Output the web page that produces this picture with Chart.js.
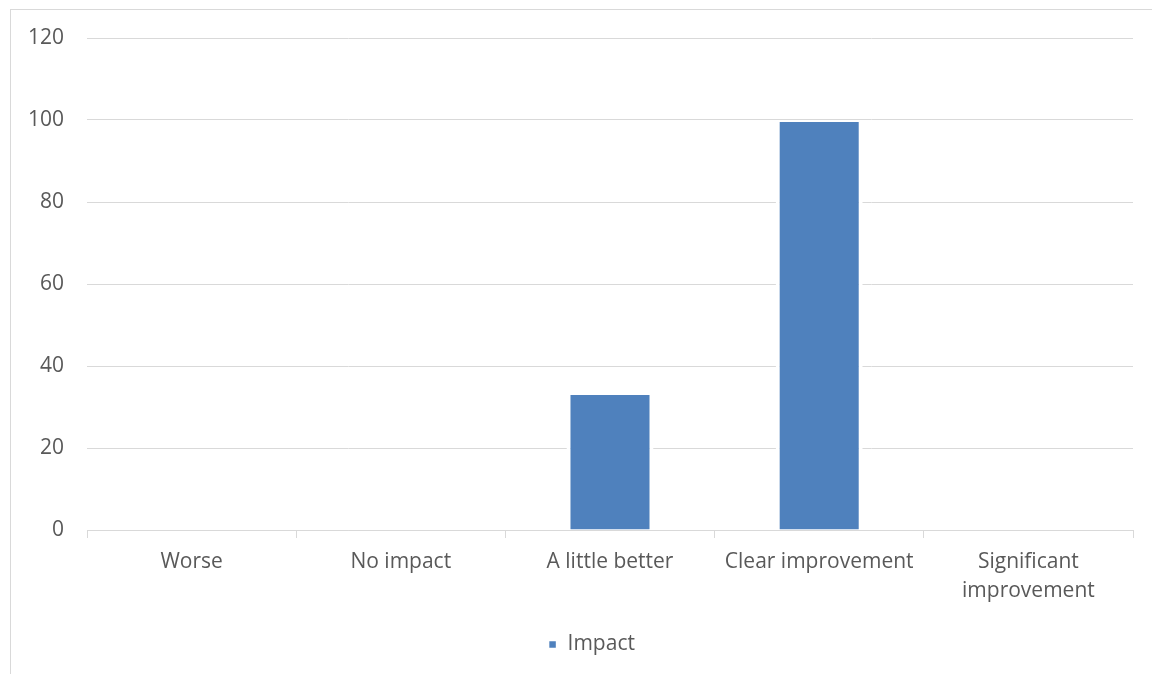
<!DOCTYPE html>
<html>
<head>
<meta charset="utf-8">
<title>Impact</title>
<script src="https://cdn.jsdelivr.net/npm/chart.js@4.4.1/dist/chart.umd.min.js"></script>
<style>
  html, body { margin: 0; padding: 0; background: #fff; overflow: hidden; }
  #frame {
    position: absolute; left: 10px; top: 9px; width: 1200px; height: 720px;
    border: 1px solid #d9d9d9; box-sizing: border-box;
  }
  #wrap { position: absolute; left: 0; top: 0; width: 1152px; height: 674px; }
</style>
</head>
<body>
<div id="frame"></div>
<div id="wrap"><canvas id="chart" width="1152" height="674"></canvas></div>
<script>
const categories = ["Worse", "No impact", "A little better", "Clear improvement", ["Significant", "improvement"]];
const impactValues = [0, 0, 33.4, 100, 0];
const yTicks = [0, 20, 40, 60, 80, 100, 120];

const TEXT = "#595959";
const GRID = "#d9d9d9";
const FONT = "'Open Sans', sans-serif";

// centre the legend on the outer chart box rather than on the plot area
const legendShift = {
  id: "legendShift",
  afterLayout(chart) {
    if (chart.legend) chart.legend.left += 50;
  },
};

new Chart(document.getElementById("chart"), {
  type: "bar",
  data: {
    labels: categories,
    datasets: [{
      label: "Impact",
      data: impactValues,
      backgroundColor: "#4f81bd",
      borderColor: "#ffffff",
      borderWidth: { left: 4, right: 4, top: 2, bottom: 0 },
      borderSkipped: false,
      categoryPercentage: 1,
      barPercentage: 0.416,
    }],
  },
  plugins: [legendShift],
  options: {
    responsive: false,
    animation: false,
    layout: { padding: { left: 0, right: 19, top: 38, bottom: 9 } },
    plugins: {
      tooltip: { enabled: false },
      legend: {
        position: "bottom",
        labels: {
          color: TEXT,
          font: { family: FONT, size: 21 },
          boxWidth: 9,
          boxHeight: 9,
          padding: 8,
        },
      },
    },
    scales: {
      x: {
        afterFit: (scale) => { scale.height = 96; },
        grid: { offset: true, drawOnChartArea: false, color: GRID, tickLength: 8 },
        border: { color: GRID },
        ticks: {
          color: TEXT,
          font: { family: FONT, size: 21, lineHeight: 1.37 },
          maxRotation: 0,
          autoSkip: false,
          padding: 10,
        },
      },
      y: {
        min: 0,
        max: 120,
        afterFit: (scale) => { scale.width = 87; },
        afterBuildTicks: (scale) => { scale.ticks = yTicks.map((v) => ({ value: v })); },
        grid: { color: GRID, drawTicks: false },
        border: { display: false },
        ticks: { color: TEXT, font: { family: FONT, size: 21 }, padding: 23 },
      },
    },
  },
});
</script>
</body>
</html>
